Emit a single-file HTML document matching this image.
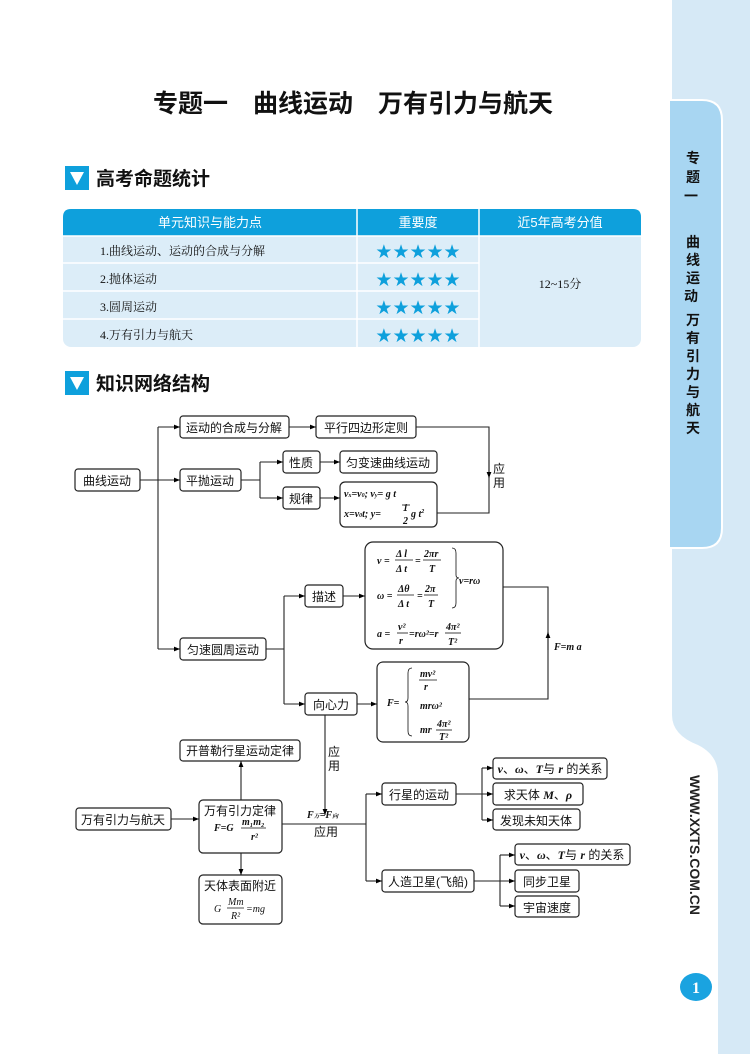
<!DOCTYPE html>
<html><head><meta charset="utf-8"><style>
html,body{margin:0;padding:0;background:#fff}
svg{display:block}
.cn{font-family:"Liberation Sans","Noto Sans CJK SC",sans-serif}
.f{font-family:"Liberation Serif","Noto Serif CJK SC",serif;font-style:italic;font-weight:bold}
</style></head><body>
<svg width="750" height="1054" viewBox="0 0 750 1054" xmlns="http://www.w3.org/2000/svg">
<defs><marker id="a" viewBox="0 0 10 10" refX="10" refY="5" markerWidth="7" markerHeight="6" orient="auto" markerUnits="userSpaceOnUse"><path d="M0,1 L10,5 L0,9 z" fill="#000"/></marker></defs>
<path d="M672,0 H750 V1054 H718 V775 Q718,755 698,745 Q672,735 672,715 Z" fill="#d6e9f6"/>
<path d="M669,100 H702 Q722,100 722,120 V528 Q722,548 702,548 H669 Z" fill="#a8d6f2" stroke="#fff" stroke-width="2"/>
<text class="cn" font-size="14" font-weight="bold" fill="#111" text-anchor="middle">
<tspan x="693" y="163">专</tspan><tspan x="693" y="182">题</tspan><tspan x="693" y="201">一</tspan>
<tspan x="693" y="247">曲</tspan><tspan x="693" y="265">线</tspan><tspan x="693" y="283">运</tspan><tspan x="693" y="301">动</tspan>
<tspan x="693" y="325">万</tspan><tspan x="693" y="343">有</tspan><tspan x="693" y="361">引</tspan><tspan x="693" y="379">力</tspan><tspan x="693" y="397">与</tspan><tspan x="693" y="415">航</tspan><tspan x="693" y="433">天</tspan></text>
<text class="cn" font-size="14" font-weight="bold" fill="#222" transform="translate(690,775) rotate(90)">WWW.XXTS.COM.CN</text>
<ellipse cx="696" cy="987" rx="16" ry="14" fill="#1aa3e0"/>
<text x="696" y="993" font-family="Liberation Serif,serif" font-weight="bold" font-size="16" fill="#fff" text-anchor="middle">1</text>
<text class="cn" x="353" y="112" font-size="25" font-weight="bold" text-anchor="middle" fill="#111">专题一　曲线运动　万有引力与航天</text>
<rect x="65" y="166" width="24" height="24" fill="#0ea0dc"/><path d="M70,172 H84 L77,185 Z" fill="#fff"/>
<text class="cn" x="96" y="185" font-size="19" font-weight="bold" fill="#111">高考命题统计</text>
<rect x="65" y="371" width="24" height="24" fill="#0ea0dc"/><path d="M70,377 H84 L77,390 Z" fill="#fff"/>
<text class="cn" x="96" y="390" font-size="19" font-weight="bold" fill="#111">知识网络结构</text>
<rect x="63" y="209" width="578" height="138" rx="8" fill="#dcedf8"/>
<path d="M63,236 V217 Q63,209 71,209 H633 Q641,209 641,217 V236 Z" fill="#0ea0dc"/>
<g stroke="#fff" stroke-width="1.5"><line x1="357" y1="209" x2="357" y2="347"/><line x1="479" y1="209" x2="479" y2="347"/>
<line x1="63" y1="263" x2="479" y2="263"/><line x1="63" y1="291" x2="479" y2="291"/><line x1="63" y1="319" x2="479" y2="319"/><line x1="63" y1="236" x2="641" y2="236"/></g>
<g class="cn" font-size="13" fill="#fff" text-anchor="middle"><text x="210" y="227">单元知识与能力点</text><text x="418" y="227">重要度</text><text x="560" y="227">近5年高考分值</text></g>
<g font-family="Liberation Serif,'Noto Serif CJK SC',serif" font-size="12" fill="#111"><text x="100" y="255">1.曲线运动、运动的合成与分解</text><text x="100" y="283">2.抛体运动</text><text x="100" y="311">3.圆周运动</text><text x="100" y="339">4.万有引力与航天</text><text x="560" y="288" text-anchor="middle">12~15分</text></g>
<g font-size="19" fill="#0ea0dc" text-anchor="middle" font-family="DejaVu Sans,sans-serif"><text x="418" y="258">★★★★★</text><text x="418" y="286">★★★★★</text><text x="418" y="314">★★★★★</text><text x="418" y="342">★★★★★</text></g>
<g fill="#fff" stroke="#222" stroke-width="1.2">
<rect x="75" y="469" width="65" height="22" rx="3"/><rect x="180" y="416" width="109" height="22" rx="3"/><rect x="316" y="416" width="100" height="22" rx="3"/>
<rect x="180" y="469" width="61" height="22" rx="3"/><rect x="283" y="451" width="37" height="22" rx="3"/><rect x="340" y="451" width="97" height="22" rx="3"/>
<rect x="283" y="487" width="37" height="22" rx="3"/><rect x="340" y="482" width="97" height="45" rx="5"/>
<rect x="180" y="638" width="86" height="22" rx="3"/><rect x="305" y="585" width="38" height="22" rx="3"/><rect x="305" y="693" width="52" height="22" rx="3"/>
<rect x="365" y="542" width="138" height="107" rx="8"/><rect x="377" y="662" width="92" height="80" rx="6"/>
<rect x="180" y="740" width="120" height="21" rx="3"/><rect x="199" y="800" width="83" height="53" rx="4"/><rect x="76" y="808" width="95" height="22" rx="3"/>
<rect x="199" y="875" width="83" height="49" rx="4"/><rect x="382" y="783" width="74" height="22" rx="3"/><rect x="382" y="870" width="92" height="22" rx="3"/>
<rect x="493" y="758" width="114" height="21" rx="3"/><rect x="493" y="783" width="90" height="22" rx="3"/><rect x="493" y="809" width="87" height="21" rx="3"/>
<rect x="515" y="844" width="115" height="21" rx="3"/><rect x="515" y="870" width="64" height="22" rx="3"/><rect x="515" y="896" width="64" height="21" rx="3"/>
</g>
<g fill="none" stroke="#222" stroke-width="1.1">
<path d="M140,480 H180" marker-end="url(#a)"/><path d="M158,427 V649"/><path d="M158,427 H180" marker-end="url(#a)"/><path d="M158,649 H180" marker-end="url(#a)"/>
<path d="M289,427 H316" marker-end="url(#a)"/><path d="M416,427 H489 V513 H437"/><path d="M489,460 V478" marker-end="url(#a)"/>
<path d="M241,480 H260"/><path d="M260,462 V498"/><path d="M260,462 H283" marker-end="url(#a)"/><path d="M260,498 H283" marker-end="url(#a)"/>
<path d="M320,462 H340" marker-end="url(#a)"/><path d="M320,498 H340" marker-end="url(#a)"/>
<path d="M266,649 H284"/><path d="M284,596 V704"/><path d="M284,596 H305" marker-end="url(#a)"/><path d="M284,704 H305" marker-end="url(#a)"/>
<path d="M343,596 H365" marker-end="url(#a)"/><path d="M357,704 H377" marker-end="url(#a)"/>
<path d="M469,699 H548 V587 H503"/><path d="M548,650 V632" marker-end="url(#a)"/>
<path d="M325,715 V815" marker-end="url(#a)"/>
<path d="M171,819 H199" marker-end="url(#a)"/><path d="M241,800 V761" marker-end="url(#a)"/><path d="M241,853 V875" marker-end="url(#a)"/>
<path d="M282,824 H366"/><path d="M366,794 V881"/><path d="M366,794 H382" marker-end="url(#a)"/><path d="M366,881 H382" marker-end="url(#a)"/>
<path d="M456,794 H493" marker-end="url(#a)"/><path d="M482,768 V820"/><path d="M482,768 H493" marker-end="url(#a)"/><path d="M482,820 H493" marker-end="url(#a)"/>
<path d="M474,881 H515" marker-end="url(#a)"/><path d="M500,855 V906"/><path d="M500,855 H515" marker-end="url(#a)"/><path d="M500,906 H515" marker-end="url(#a)"/>
</g>
<g class="cn" font-size="12" fill="#111" text-anchor="middle">
<text x="107" y="485">曲线运动</text><text x="234" y="432">运动的合成与分解</text><text x="366" y="432">平行四边形定则</text>
<text x="210" y="485">平抛运动</text><text x="301" y="467">性质</text><text x="388" y="467">匀变速曲线运动</text><text x="301" y="503">规律</text>
<text x="223" y="654">匀速圆周运动</text><text x="324" y="601">描述</text><text x="331" y="709">向心力</text>
<text x="240" y="755">开普勒行星运动定律</text><text x="240" y="815">万有引力定律</text><text x="123" y="824">万有引力与航天</text>
<text x="240" y="890">天体表面附近</text><text x="419" y="799">行星的运动</text><text x="428" y="886">人造卫星(飞船)</text>
<text x="538" y="799">求天体 <tspan class="f">M</tspan>、<tspan class="f">ρ</tspan></text><text x="536" y="825">发现未知天体</text>
<text x="547" y="886">同步卫星</text><text x="547" y="912">宇宙速度</text>
<text x="550" y="773"><tspan class="f">v</tspan>、<tspan class="f">ω</tspan>、<tspan class="f">T</tspan>与 <tspan class="f">r</tspan> 的关系</text>
<text x="572" y="859"><tspan class="f">v</tspan>、<tspan class="f">ω</tspan>、<tspan class="f">T</tspan>与 <tspan class="f">r</tspan> 的关系</text>
<text x="499" y="473">应</text><text x="499" y="487">用</text>
<text x="334" y="756">应</text><text x="334" y="770">用</text>
<text x="326" y="836">应用</text>
</g>
<g class="f" font-size="10" fill="#111">
<text x="344" y="497">v<tspan font-size="6">x</tspan>=v<tspan font-size="6">0</tspan>; v<tspan font-size="6">y</tspan>= g t</text>
<text x="344" y="517">x=v<tspan font-size="6">0</tspan>t; y=</text><text x="403" y="511">1</text><text x="403" y="524">2</text><text x="411" y="517">g t<tspan font-size="6" dy="-4">2</tspan></text>
<text x="377" y="564">v =</text><text x="396" y="557">Δ l</text><text x="396" y="572">Δ t</text><text x="415" y="564">=</text><text x="424" y="557">2πr</text><text x="429" y="572">T</text>
<text x="377" y="599">ω =</text><text x="398" y="592">Δθ</text><text x="398" y="607">Δ t</text><text x="417" y="599">=</text><text x="425" y="592">2π</text><text x="428" y="607">T</text>
<text x="459" y="584">v=rω</text>
<text x="377" y="637">a =</text><text x="398" y="630">v²</text><text x="399" y="644">r</text><text x="409" y="637">=rω²=r</text><text x="446" y="630">4π²</text><text x="448" y="645">T²</text>
<text x="387" y="706">F=</text><text x="420" y="677">mv²</text><text x="424" y="690">r</text><text x="420" y="709">mrω²</text><text x="420" y="733">mr</text><text x="437" y="727">4π²</text><text x="439" y="740">T²</text>
<text x="214" y="831">F=G</text><text x="242" y="825">m₁m₂</text><text x="251" y="840">r²</text>
<text x="307" y="818">F<tspan font-size="6">万</tspan>=F<tspan font-size="6">向</tspan></text>
<text x="554" y="650">F=m a</text>
<text x="214" y="912" font-weight="normal">G</text><text x="228" y="905" font-weight="normal">Mm</text><text x="231" y="919" font-weight="normal">R²</text><text x="246" y="912" font-weight="normal">=mg</text>
</g>
<g stroke="#111" stroke-width="0.8" fill="none">
<line x1="402" y1="505" x2="410" y2="505"/>
<line x1="395" y1="560" x2="413" y2="560"/><line x1="423" y1="560" x2="441" y2="560"/>
<line x1="397" y1="595" x2="414" y2="595"/><line x1="424" y1="595" x2="438" y2="595"/>
<line x1="397" y1="633" x2="408" y2="633"/><line x1="445" y1="633" x2="461" y2="633"/>
<line x1="419" y1="680" x2="437" y2="680"/><line x1="436" y1="730" x2="452" y2="730"/>
<line x1="241" y1="828" x2="266" y2="828"/><line x1="227" y1="908" x2="244" y2="908"/>
<path d="M452,548 q4,0 4,5 v22 q0,3 3,3 q-3,0 -3,3 v22 q0,5 -4,5"/>
<path d="M412,668 q-4,0 -4,5 v25 q0,4 -3,4 q3,0 3,4 v25 q0,5 4,5"/>
</g>
</svg>
</body></html>
